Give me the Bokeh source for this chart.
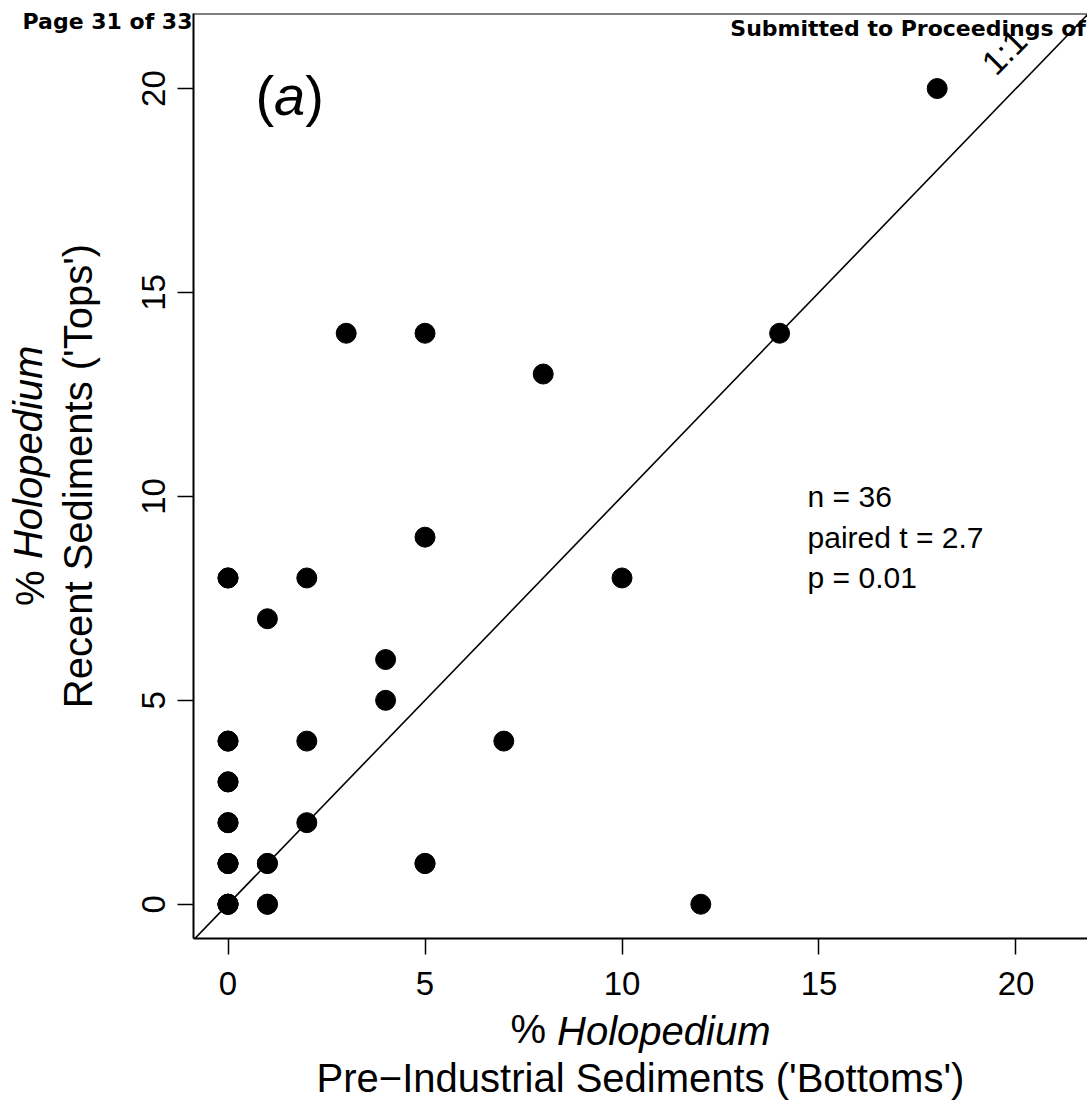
import math
from bokeh.plotting import figure
from bokeh.models import Range1d, FixedTicker, Label, Span, LinearAxis
from bokeh.embed import file_html
from bokeh.resources import INLINE

# ---- data ----
bottoms = [18, 14, 3, 5, 8, 5, 10, 0, 0, 2, 1, 4, 4, 0, 0, 2, 7,
           0, 0, 0, 0, 2, 0, 0, 0, 1, 1, 5, 5, 0, 0, 0, 0, 1, 1, 12]
tops    = [20, 14, 14, 14, 13, 9, 8, 8, 8, 8, 7, 6, 5, 4, 4, 4, 4,
           3, 3, 2, 2, 2, 1, 1, 1, 1, 1, 1, 1, 0, 0, 0, 0, 0, 0, 0]
one_to_one = [-2, 24]
x_ticks = [0, 5, 10, 15, 20]
y_ticks = [0, 5, 10, 15, 20]
stats_lines = ["n = 36", "paired t = 2.7", "p = 0.01"]
stats_y = [10, 9, 8]

FONT = "Liberation Sans"

p = figure(width=1087, height=1109,
           x_range=Range1d(-0.876, 21.815), y_range=Range1d(-0.84, 21.84),
           output_backend="svg", toolbar_location=None,
           min_border_left=193, min_border_right=0,
           min_border_top=13, min_border_bottom=171)
p.outline_line_color = None
p.xgrid.grid_line_color = None
p.ygrid.grid_line_color = None
p.background_fill_color = "white"
p.border_fill_color = "white"

for ax, ticks in ((p.xaxis, x_ticks), (p.yaxis, y_ticks)):
    ax.ticker = FixedTicker(ticks=ticks)
    ax.axis_line_width = 2
    ax.axis_line_color = "black"
    ax.major_tick_line_width = 1.5
    ax.major_tick_line_color = "black"
    ax.major_tick_out = 16
    ax.major_tick_in = 0
    ax.minor_tick_line_color = None
    ax.major_label_text_font = FONT
    ax.major_label_text_font_size = "33px"
    ax.major_label_text_color = "black"
p.xaxis.major_label_standoff = 17
p.yaxis.major_label_standoff = 12
p.yaxis.major_label_orientation = "vertical"
p.yaxis.axis_label = "Recent Sediments ('Tops')"
p.yaxis.axis_label_text_font = FONT
p.yaxis.axis_label_text_font_size = "40px"
p.yaxis.axis_label_text_font_style = "normal"
p.yaxis.axis_label_text_color = "black"
p.yaxis.axis_label_standoff = 40


def text_axis(side, pos, text, size, style="normal", standoff=0, orientation=None,
              label=None, label_standoff=0, font=FONT):
    ax = LinearAxis(ticker=FixedTicker(ticks=[pos], minor_ticks=[]),
                    major_label_overrides={pos: text})
    ax.axis_line_color = None
    ax.major_tick_line_color = None
    ax.minor_tick_line_color = None
    ax.major_tick_out = 0
    ax.major_tick_in = 0
    ax.minor_tick_out = 0
    ax.minor_tick_in = 0
    ax.major_label_text_font = font
    ax.major_label_text_font_size = size
    ax.major_label_text_font_style = style
    ax.major_label_text_color = "black"
    ax.major_label_standoff = standoff
    if orientation is not None:
        ax.major_label_orientation = orientation
    if label is not None:
        ax.axis_label = label
        ax.axis_label_text_font = FONT
        ax.axis_label_text_font_size = size
        ax.axis_label_text_font_style = "normal"
        ax.axis_label_text_color = "black"
        ax.axis_label_standoff = label_standoff
    p.add_layout(ax, side)
    return ax

# x axis title: "% " + italic "Holopedium", then second line
text_axis("below", 7.62, "%", "40px", standoff=9)
text_axis("below", 11.06, "Holopedium", "40px", style="italic", standoff=-45,
          label="Pre\u2212Industrial Sediments ('Bottoms')", label_standoff=0)

# y axis title first line: "% " + italic "Holopedium"
text_axis("left", 7.75, "%", "40px", standoff=0, orientation="vertical")
text_axis("left", 11.08, "Holopedium", "40px", style="italic", standoff=-45,
          orientation="vertical")

# page header (left margin)
text_axis("left", 21.64, "Page 31 of 33", "22px", style="bold", standoff=-189,
          orientation="horizontal", font="DejaVu Sans")

# top border of the box
p.add_layout(Span(location=21.84, dimension="width", line_color="black", line_width=2))

# 1:1 line and points
p.line(one_to_one, one_to_one, line_color="black", line_width=1.6)
p.scatter(bottoms, tops, size=20, fill_color="black", line_color="black", marker="circle")

def lab(x, y, text, size, style="normal", angle=0, align="left", baseline="alphabetic",
        font=FONT, xo=0, yo=0):
    p.add_layout(Label(x=x, y=y, text=text, text_font=font, text_font_size=size,
                       text_font_style=style, angle=angle, text_align=align,
                       text_baseline=baseline, text_color="black",
                       x_offset=xo, y_offset=yo))

# panel tag (a)
lab(0.698, 19.83, "(", "56px")
lab(0.698, 19.83, "a", "56px", style="italic", xo=18.6)
lab(0.698, 19.83, ")", "56px", xo=49.7)

# 1:1 tag
lab(19.70, 20.90, "1:1", "34px", angle=math.pi / 4, align="center", baseline="middle")

# stats
for t, yy in zip(stats_lines, stats_y):
    lab(14.71, yy, t, "30px", baseline="middle")

# page header (inside plot area)
lab(12.75, 21.47, "Submitted to Proceedings of", "22px", style="bold", font="DejaVu Sans")

open("out.html", "w").write(file_html(p, INLINE))
